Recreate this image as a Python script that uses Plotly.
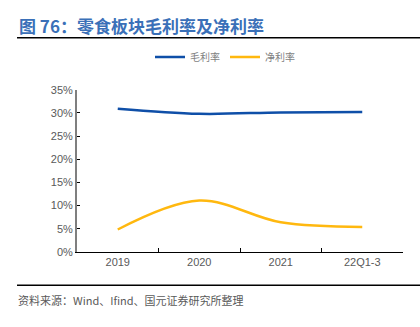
import plotly.graph_objects as go

categories = ["2019", "2020", "2021", "22Q1-3"]
gross_margin = [30.9, 29.8, 30.1, 30.2]
net_margin = [4.85, 11.1, 6.4, 5.4]
y_ticks = [0, 5, 10, 15, 20, 25, 30, 35]
y_labels = [f"{v}%" for v in y_ticks]

fig = go.Figure()
fig.add_trace(go.Scatter(x=categories, y=gross_margin, name="毛利率", mode="lines",
                         line=dict(color="#0F4FA8", width=2.5, shape="spline", smoothing=1.0)))
fig.add_trace(go.Scatter(x=categories, y=net_margin, name="净利率", mode="lines",
                         line=dict(color="#FFB80F", width=2.5, shape="spline", smoothing=1.0)))

fig.update_layout(
    width=420, height=327,
    margin=dict(l=77, r=17, t=86, b=75),
    paper_bgcolor="white", plot_bgcolor="white",
    font=dict(family="Noto Sans CJK SC, Liberation Sans, Arial", size=11, color="#595959"),
    showlegend=True,
    legend=dict(orientation="h", x=(150 - 77) / 326, xanchor="left", y=1 - 57/327, yanchor="middle",
                yref="container", font=dict(size=10, color="#7F7F7F"),
                itemwidth=30, tracegroupgap=0),
    xaxis=dict(type="category", range=[-0.5, 3.5], showline=True, linecolor="#000000", linewidth=1,
               ticks="inside", ticklen=4, tickcolor="#000000", tickson="boundaries",
               showgrid=False, tickfont=dict(family="Liberation Sans, Arial", size=11, color="#595959")),
    yaxis=dict(range=[0, 35], tickvals=y_ticks, ticktext=y_labels, showline=True,
               linecolor="#7F7F7F", linewidth=2, ticks="inside", ticklen=3, tickcolor="#000000",
               showgrid=False, zeroline=False,
               tickfont=dict(family="Liberation Sans, Arial", size=11, color="#595959")),
)

fig.add_annotation(text="<b>图 76：零食板块毛利率及净利率</b>", xref="paper", yref="paper",
                   x=0, xanchor="left", xshift=-60, y=1, yshift=64, yanchor="middle",
                   showarrow=False, font=dict(size=17, color="#3A70B8",
                                              family="Noto Sans CJK SC"))
fig.add_shape(type="line", xref="paper", yref="paper", x0=-0.184, x1=1.06,
              y0=1 + 53/166, y1=1 + 53/166, line=dict(color="#000000", width=1.5))
fig.add_annotation(text="资料来源：Wind、Ifind、国元证券研究所整理", xref="paper", yref="paper",
                   x=0, xanchor="left", xshift=-61, y=0, yshift=-48, yanchor="middle",
                   showarrow=False, font=dict(size=11, color="#595959", family="Noto Sans CJK SC"))
fig.add_shape(type="line", xref="paper", yref="paper", x0=-0.184, x1=1.06,
              y0=-34/166, y1=-34/166, line=dict(color="#000000", width=1.5))

fig.write_html("out.html")
